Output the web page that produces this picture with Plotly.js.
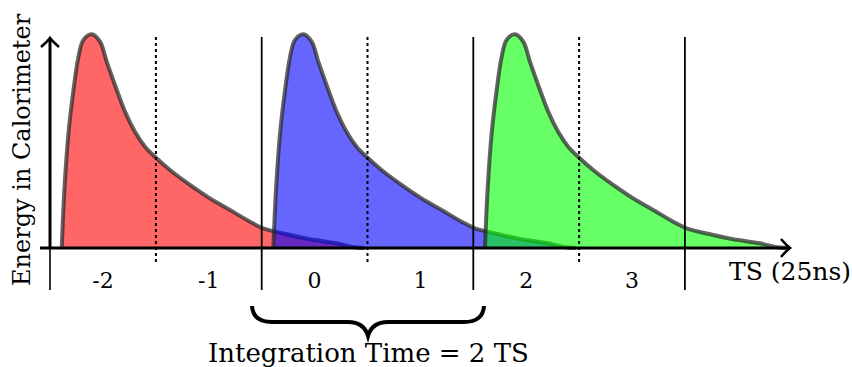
<!DOCTYPE html>
<html>
<head>
<meta charset="utf-8">
<script src="https://cdn.plot.ly/plotly-3.0.1.min.js"></script>
<style>html,body{margin:0;padding:0;background:#fff;}#chart{width:852px;height:367px;}</style>
</head>
<body>
<div id="chart"></div>
<script>
// ---- data ----
// pulse shape: time offset (TS) after pulse start, and normalised energy
const pulseOffset = [0.0, 0.024, 0.062, 0.109, 0.157, 0.204, 0.283, 0.362, 0.425, 0.503, 0.598, 0.692, 0.787, 0.881, 1.023, 1.212, 1.401, 1.590, 1.779, 1.905, 2.157, 2.347, 2.599, 2.743, 2.86];
const pulseEnergy = [0.0, 0.263, 0.529, 0.732, 0.892, 0.973, 1.0, 0.966, 0.872, 0.763, 0.638, 0.544, 0.474, 0.427, 0.365, 0.295, 0.232, 0.178, 0.123, 0.092, 0.061, 0.041, 0.022, 0.005, 0.0];
const pulseStart = [-2.39, -0.39, 1.61];
const pulseFill = ['rgba(255,0,0,0.6)', 'rgba(0,0,255,0.6)', 'rgba(0,255,0,0.6)'];
const slotEdges = [-0.5, 1.5, 3.5];
const slotMids = [-1.5, 0.5, 2.5];
const tickValues = [-2, -1, 0, 1, 2, 3];
const tickLabels = ['-2', '-1', '0', '1', '2', '3'];

// ---- pixel <-> data helpers (figure is 852x367, plot area fills it) ----
const PX_PER_TS = 105.8, X0PX = 314.6, BASEPX = 248, PX_PER_E = 213.7;
const X = px => (px - X0PX) / PX_PER_TS;
const Y = py => (BASEPX - py) / PX_PER_E;

const traces = pulseStart.map((s, i) => ({
  type: 'scatter', mode: 'lines',
  x: pulseOffset.map(o => s + o), y: pulseEnergy,
  fill: 'tozeroy', fillcolor: pulseFill[i],
  line: {color: 'rgba(40,40,40,0.72)', width: 4, shape: 'spline', smoothing: 1},
  hoverinfo: 'skip', showlegend: false
}));

traces.push({
  type: 'scatter', mode: 'text', x: tickValues, y: tickValues.map(() => Y(282)),
  text: tickLabels, textposition: 'middle center',
  textfont: {family: 'DejaVu Serif', size: 22, color: '#000'},
  cliponaxis: false, hoverinfo: 'skip', showlegend: false
});

const font = {family: 'DejaVu Serif', size: 24, color: '#000'};
const shapes = [];
// y axis
shapes.push({type: 'line', layer: 'above', x0: X(50), x1: X(50), y0: 0, y1: Y(38), line: {color: '#000', width: 3}});
shapes.push({type: 'line', layer: 'above', x0: X(50), x1: X(50), y0: 0, y1: Y(290), line: {color: '#000', width: 1.6}});
shapes.push({type: 'path', layer: 'above', path: `M ${X(41)},${Y(47)} Q ${X(47)},${Y(42)} ${X(50)},${Y(38)} Q ${X(53)},${Y(42)} ${X(59)},${Y(47)}`, line: {color: '#000', width: 2.6}});
// x axis
shapes.push({type: 'line', layer: 'above', x0: X(40), x1: X(789), y0: 0, y1: 0, line: {color: '#000', width: 3}});
shapes.push({type: 'path', layer: 'above', path: `M ${X(781)},${Y(239)} Q ${X(786)},${Y(245)} ${X(790)},${Y(248)} Q ${X(786)},${Y(251)} ${X(781)},${Y(257)}`, line: {color: '#000', width: 2.6}});
slotEdges.forEach(v => shapes.push({type: 'line', layer: 'above', x0: v, x1: v, y0: Y(37), y1: Y(290), line: {color: '#000', width: 1.8}}));
slotMids.forEach(v => shapes.push({type: 'line', layer: 'above', x0: v, x1: v, y0: Y(37), y1: Y(262), line: {color: '#000', width: 2, dash: 'dot'}}));
// brace
shapes.push({type: 'path', layer: 'above', path:
  `M ${X(252)},${Y(306)} Q ${X(253)},${Y(322)} ${X(272)},${Y(322)} L ${X(348)},${Y(322)} Q ${X(364)},${Y(322)} ${X(368)},${Y(336)} Q ${X(372)},${Y(322)} ${X(388)},${Y(322)} L ${X(464)},${Y(322)} Q ${X(483)},${Y(322)} ${X(484)},${Y(306)}`,
  line: {color: '#000', width: 4}});

const annotations = [
  {x: X(22), y: Y(150), text: 'Energy in Calorimeter', textangle: -90, showarrow: false, font: {family: 'DejaVu Serif', size: 24, color: '#000'}, xanchor: 'center', yanchor: 'middle'},
  {x: X(727), y: Y(271), text: 'TS (25ns)', showarrow: false, font: {family: 'DejaVu Serif', size: 25, color: '#000'}, xanchor: 'left', yanchor: 'middle'},
  {x: X(368), y: Y(353), text: 'Integration Time = 2 TS', showarrow: false, font: {family: 'DejaVu Serif', size: 26, color: '#000'}, xanchor: 'center', yanchor: 'middle'}
];

const layout = {
  width: 852, height: 367,
  margin: {l: 0, r: 0, t: 0, b: 0, pad: 0},
  paper_bgcolor: '#fff', plot_bgcolor: '#fff',
  xaxis: {range: [X(0), X(852)], visible: false, fixedrange: true},
  yaxis: {range: [Y(367), Y(0)], visible: false, fixedrange: true},
  shapes: shapes, annotations: annotations, showlegend: false
};
Plotly.newPlot('chart', traces, layout, {staticPlot: true, displayModeBar: false});
</script>
</body>
</html>
